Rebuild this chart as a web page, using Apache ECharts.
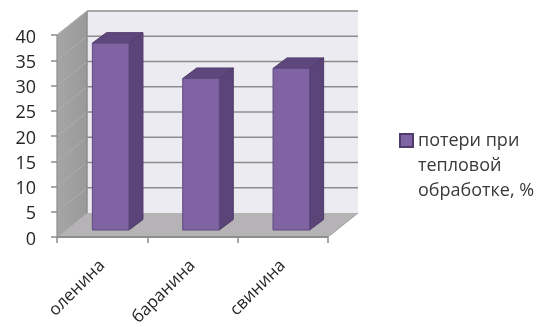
<!DOCTYPE html>
<html><head><meta charset="utf-8">
<style>html,body{margin:0;padding:0;background:#fff}#c{width:550px;height:327px}</style>
<script src="https://cdn.jsdelivr.net/npm/echarts@6/dist/echarts.min.js"></script>
</head><body><div id="c"></div>
<script>
const categories = ['оленина', 'баранина', 'свинина'];
const losses = [37, 30, 32];
const seriesName = 'потери при\nтепловой\nобработке, %';
const yTicks = [0, 5, 10, 15, 20, 25, 30, 35, 40];
const yMax = 40, yStep = 5;

const WALL = [30, -24], BAR_SHIFT = [8.5, -7], BAR_DEPTH = [14, -10.5];
const FONT = '"Open Sans", sans-serif';
const chart = echarts.init(document.getElementById('c'));
const off = (p, d) => [p[0] + d[0], p[1] + d[1]];

function poly(points, fill, stroke, lw) {
  return {type: 'polygon', shape: {points}, style: {fill, stroke: stroke || null, lineWidth: lw || 0}};
}
function line(a, b, stroke, lw) {
  return {type: 'line', shape: {x1: a[0], y1: a[1], x2: b[0], y2: b[1]}, style: {stroke, lineWidth: lw}};
}

function renderWalls(params, api) {
  const cs = params.coordSys;
  const L = cs.x, R = cs.x + cs.width;
  const yOf = v => api.coord([0, v])[1];
  const y0 = yOf(0), yT = yOf(yMax);
  const children = [];
  if (params.dataIndex === 0) {
    children.push(poly([off([L, yT], WALL), off([R, yT], WALL), off([R, y0], WALL), off([L, y0], WALL)], '#edebf2'));
    children.push(poly([[L, yT], off([L, yT], WALL), off([L, y0], WALL), [L, y0]],
      new echarts.graphic.LinearGradient(0, 0, 1, 0, [{offset: 0, color: '#a6a6a6'}, {offset: 1, color: '#999'}])));
  }
  const v = api.value(0);
  const y = yOf(v);
  if (v !== 0) {
    children.push(line([L, y], off([L, y], WALL), '#aeaeae', 1));
    children.push(line(off([L, y], WALL), off([R, y], WALL), '#8c8c8c', 1.6));
  }
  if (params.dataIndex === yTicks.length - 1) {
    children.push(poly([[L, y0], [R, y0], off([R, y0], WALL), off([L, y0], WALL)], '#b5b3b5'));
    children.push(line([L, y0], [R, y0], '#8e8e8e', 2));
    children.push(line([R, y0], off([R, y0], WALL), '#a0a0a0', 1));
    children.push(line([L, y0], off([L, y0], WALL), '#a0a0a0', 1));
    children.push(line(off([L, yT], WALL), off([L, y0], WALL), '#8c8c8c', 1.5));
    children.push(line([L, yT], off([L, yT], WALL), '#aeaeae', 1));
    children.push(line([L, yT], [L, y0], '#8c8c8c', 1.2));
  }
  return {type: 'group', children};
}

function renderBar(params, api) {
  const i = api.value(0), v = api.value(1);
  const w = api.size([1, 0])[0] * 0.405;
  const top = off(api.coord([i, v]), BAR_SHIFT);
  const base = off(api.coord([i, 0]), BAR_SHIFT);
  const xl = top[0] - w / 2, xr = top[0] + w / 2;
  const edge = '#4f3b6b';
  return {type: 'group', children: [
    poly([[xr, top[1]], off([xr, top[1]], BAR_DEPTH), off([xr, base[1]], BAR_DEPTH), [xr, base[1]]], '#5a4478', edge, 1),
    poly([[xl, top[1]], [xr, top[1]], off([xr, top[1]], BAR_DEPTH), off([xl, top[1]], BAR_DEPTH)], '#5d477c', edge, 1),
    {type: 'rect', shape: {x: xl, y: top[1], width: w, height: base[1] - top[1]},
      style: {fill: '#8063a3', stroke: '#5f4a80', lineWidth: 1}}
  ]};
}

chart.setOption({
  animation: false,
  backgroundColor: '#fff',
  grid: {left: 57, right: 222, top: 35, bottom: 90, outerBoundsMode: 'none'},
  xAxis: {
    type: 'category', data: categories,
    axisLine: {show: false},
    axisTick: {show: true, length: 6, lineStyle: {color: '#8c8c8c', width: 1.5}},
    axisLabel: {rotate: 45, fontFamily: FONT, fontSize: 17, color: '#262626', margin: 26}
  },
  yAxis: {
    type: 'value', min: 0, max: yMax, interval: yStep,
    splitLine: {show: false},
    axisLine: {show: false},
    axisTick: {show: true, length: 6, lineStyle: {color: '#8c8c8c', width: 1.5}},
    axisLabel: {
      margin: 21,
      formatter: '{n|{value}}',
      rich: {n: {fontFamily: FONT, fontSize: 18, color: '#262626', padding: [5, 0, 0, 0]}}
    }
  },
  legend: {
    left: 394, top: 73, orient: 'vertical', selectedMode: false,
    itemWidth: 13, itemHeight: 13, itemGap: 5,
    data: [{name: seriesName, icon: 'rect'}],
    formatter: name => '\n\n' + name,
    textStyle: {fontFamily: FONT, fontSize: 18, color: '#3a3a3a', lineHeight: 25}
  },
  series: [
    {type: 'custom', silent: true, z: 1, clip: false, data: yTicks.map(v => [v]),
      encode: {y: 0}, renderItem: renderWalls},
    {type: 'custom', name: seriesName, z: 3, clip: false,
      data: losses.map((v, i) => [i, v]), encode: {x: 0, y: 1},
      itemStyle: {color: '#8063a3', borderColor: '#4f3b6b', borderWidth: 1.5},
      renderItem: renderBar}
  ]
});
</script></body></html>
